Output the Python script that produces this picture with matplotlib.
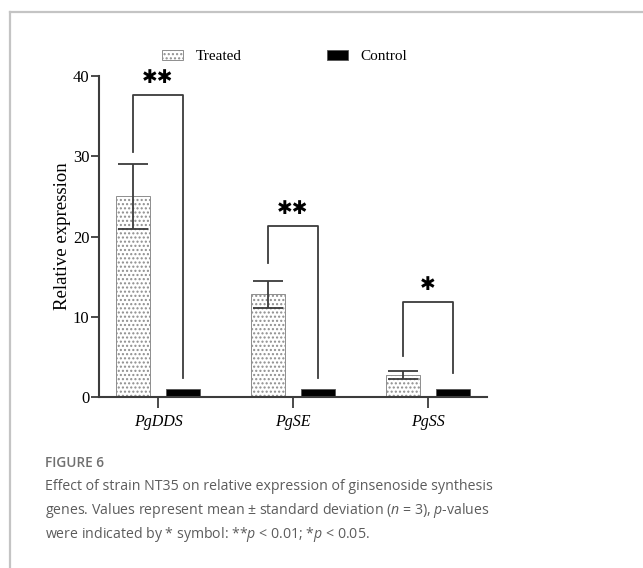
import matplotlib
matplotlib.use('Agg')
import matplotlib.pyplot as plt
from matplotlib.lines import Line2D
import numpy as np

plt.rcParams['font.family'] = 'Liberation Serif'
plt.rcParams['mathtext.fontset'] = 'custom'
plt.rcParams['mathtext.rm'] = 'Open Sans'
plt.rcParams['mathtext.it'] = 'Open Sans:italic'
plt.rcParams['hatch.linewidth'] = 1.0

genes = ['PgDDS', 'PgSE', 'PgSS']
treated = [25.0, 12.8, 2.8]
treated_sd = [4.0, 1.7, 0.5]
control = [1.0, 1.0, 1.0]
# significance brackets: top, left leg end, right leg end, label
bracket_top = [37.6, 21.3, 11.8]
bracket_left = [30.6, 16.7, 5.1]
bracket_right = [2.4, 2.4, 3.0]
stars = ['✱✱', '✱✱', '✱']

axc = '#3c3c3c'

fig = plt.figure(figsize=(6.43, 5.68), dpi=100)
ax = fig.add_axes([0.154, 0.301, 0.603, 0.565])

x = np.arange(len(genes))
off = 0.185
w = 0.25
ax.bar(x - off, treated, w, color='white', edgecolor='#8e8e8e', hatch='....',
       linewidth=0.7, label='Treated', zorder=2)
ax.bar(x + off, control, w, color='black', edgecolor='#555555', linewidth=0.6,
       label='Control', zorder=2)
ax.errorbar(x - off, treated, yerr=treated_sd, fmt='none', ecolor=axc,
            elinewidth=1.3, capsize=11, capthick=1.3, zorder=3)

for i in range(len(genes)):
    xl, xr = x[i] - off, x[i] + off
    ax.plot([xl, xl, xr, xr], [bracket_left[i], bracket_top[i], bracket_top[i], bracket_right[i]],
            color=axc, lw=1.3, zorder=3)
    ax.text(x[i], bracket_top[i] + 1.0, stars[i], ha='center', va='bottom',
            fontsize=13.5, family='DejaVu Sans', color='black')

ax.set_xlim(-0.437, 2.437)
ax.set_ylim(0, 40)
ax.set_yticks([0, 10, 20, 30, 40])
ax.set_xticks(x)
ax.set_xticklabels(genes, fontstyle='italic', fontsize=11.5)
ax.tick_params(axis='y', labelsize=12, length=6, width=1.3, color=axc, pad=1)
ax.tick_params(axis='x', length=8, width=1.3, color=axc, pad=4)
for s in ['top', 'right']:
    ax.spines[s].set_visible(False)
for s in ['left', 'bottom']:
    ax.spines[s].set_color(axc)
    ax.spines[s].set_linewidth(1.5)
ax.set_ylabel('Relative expression', fontsize=13.5, labelpad=1)

ax.legend(loc='center left', bbox_to_anchor=(0.2396, 0.9), bbox_transform=fig.transFigure,
          ncol=2, frameon=False, fontsize=11, handlelength=1.4, handleheight=0.55,
          handletextpad=0.8, columnspacing=5.6, borderpad=0)

# outer frame (top and left edges only)
fig.add_artist(Line2D([0.0156, 1.0], [0.979, 0.979], transform=fig.transFigure,
                      color='#c4c4c4', lw=1.6))
fig.add_artist(Line2D([0.0156, 0.0156], [0.0, 0.979], transform=fig.transFigure,
                      color='#c4c4c4', lw=1.6))

cap = dict(family='Open Sans', fontsize=10.15, color='#5c5c5c', va='center')
fig.text(0.07, 1 - 463 / 568, 'FIGURE 6', family='Open Sans', fontsize=9.8,
         color='#707070', weight='semibold', va='center')
fig.text(0.07, 1 - 486 / 568,
         'Effect of strain NT35 on relative expression of ginsenoside synthesis', **cap)
fig.text(0.07, 1 - 510 / 568,
         'genes. Values represent mean ± standard deviation ($n$ = 3), $p$-values', **cap)
fig.text(0.07, 1 - 534 / 568,
         'were indicated by * symbol: **$p$ < 0.01; *$p$ < 0.05.', **cap)

fig.savefig('out.png', dpi=100)
